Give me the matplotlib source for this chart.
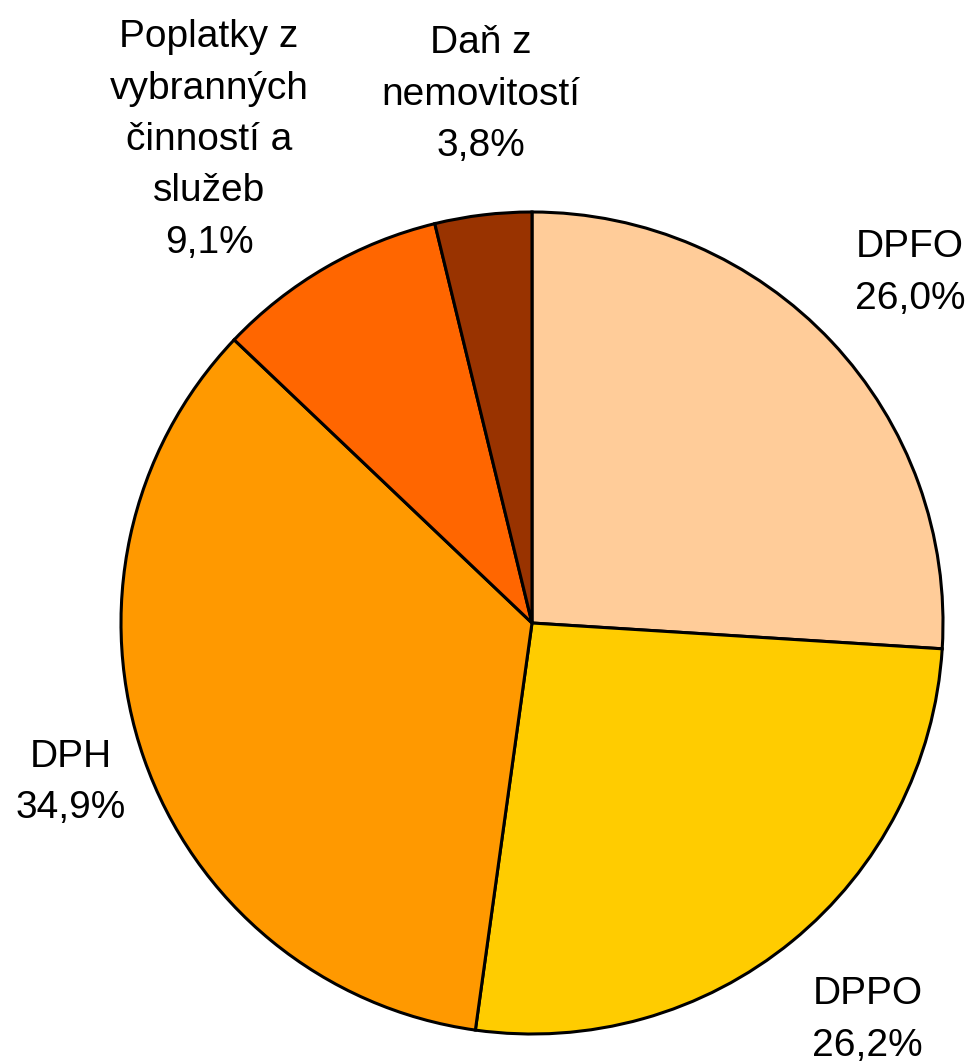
import numpy as np
import matplotlib.pyplot as plt

plt.rcParams['font.family'] = ['Liberation Sans', 'DejaVu Sans']

labels = ['DPFO', 'DPPO', 'DPH', 'Poplatky z\nvybranných\nčinností a\nslužeb', 'Daň z\nnemovitostí']
values = [26.0, 26.2, 34.9, 9.1, 3.8]
pct_text = ['26,0%', '26,2%', '34,9%', '9,1%', '3,8%']
colors = ['#FFCC99', '#FFCC00', '#FF9900', '#FF6600', '#993300']
# label placement: distance from centre (radii) and angle shift from wedge middle (deg)
label_dist = [1.254, 1.265, 1.187, 1.414, 1.291]
label_shift = [-0.4, 0.96, -0.18, 3.71, -1.34]

W, H = 972, 1064
fig = plt.figure(figsize=(W / 100, H / 100), dpi=100)
ax = fig.add_axes([0, 0, 1, 1])

cx, cy, r = 532, H - 623, 411
wedges, _ = ax.pie(values, colors=colors, startangle=90, counterclock=False,
                   center=(cx, cy), radius=r, frame=True,
                   wedgeprops=dict(edgecolor='black', linewidth=2.2))
ax.set_xlim(0, W)
ax.set_ylim(0, H)
ax.set_aspect('equal')
ax.axis('off')

for w, lab, pct, d, s in zip(wedges, labels, pct_text, label_dist, label_shift):
    ang = np.deg2rad((w.theta1 + w.theta2) / 2 + s)
    x = cx + d * r * np.cos(ang)
    y = cy + d * r * np.sin(ang)
    ax.text(x, y, lab + '\n' + pct, ha='center', va='center',
            fontsize=28, linespacing=1.55)

fig.savefig('out.png', dpi=100)
